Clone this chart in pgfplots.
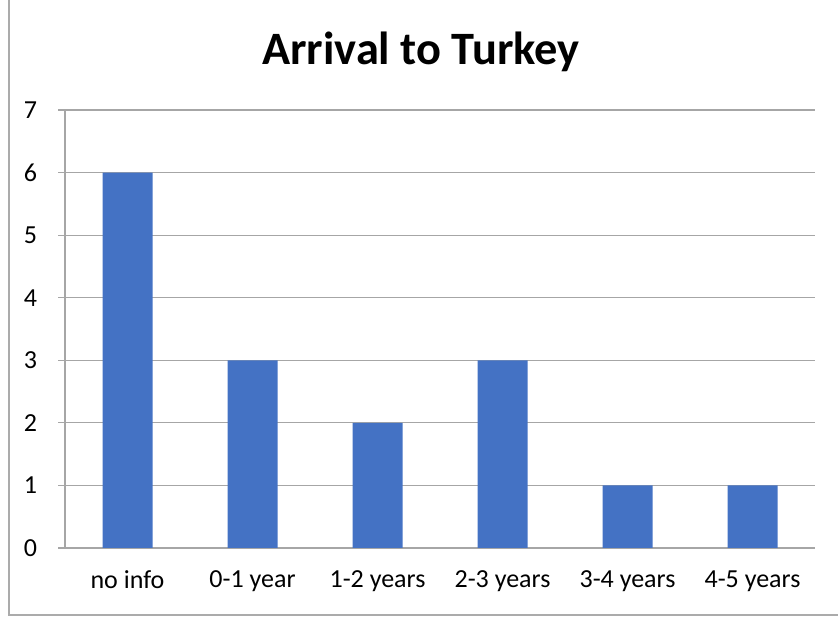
\documentclass[border=0pt]{standalone}
\usepackage{pgfplots}
\pgfplotsset{compat=1.18}
\usepackage{fontspec}
\setmainfont{Carlito}
\definecolor{barblue}{HTML}{4472C4}
\definecolor{gridgray}{HTML}{A6A6A6}
\definecolor{framegray}{HTML}{ABABAB}
\begin{document}
\begin{tikzpicture}[x=1pt,y=1pt]
% picture is 838 x 619 px at 0.5pt per px
\useasboundingbox (0,0) rectangle (419,309.5);
\draw[framegray, line width=1pt] (4.5,309.5) -- (4.5,2) -- (419,2);
\node[font=\fontsize{23.2}{27}\selectfont\bfseries] at (210.5,283.5) {Arrival to Turkey};
\begin{axis}[
  at={(32.5pt,35.5pt)}, anchor=south west,
  scale only axis, width=375pt, height=219pt,
  xmin=-0.5, xmax=5.5, ymin=0, ymax=7,
  axis x line=bottom, axis y line=left,
  axis line style={gridgray, line width=0.6pt, -},
  ytick={0,1,...,7},
  xtick={0,1,2,3,4,5},
  xticklabels={no info, 0-1 year, 1-2 years, 2-3 years, 3-4 years, 4-5 years},
  minor xtick={-0.5,0.5,1.5,2.5,3.5,4.5,5.5},
  x tick style={draw=none},
  minor x tick style={gridgray, line width=0.6pt},
  y tick style={gridgray, line width=0.6pt},
  tick align=outside, major tick length=3.5pt, minor tick length=3.5pt,
  ymajorgrids, grid style={gridgray, line width=0.6pt},
  ticklabel style={font=\fontsize{13}{15}\selectfont},
  /pgf/number format/assume math mode=true,
  yticklabel style={xshift=-7pt},
  xticklabel style={yshift=-4.5pt},
]
\addplot[ybar, bar width=25pt, fill=barblue, draw=none] coordinates {
(0,6) (1,3) (2,2) (3,3) (4,1) (5,1)
};
\end{axis}
\end{tikzpicture}
\end{document}
